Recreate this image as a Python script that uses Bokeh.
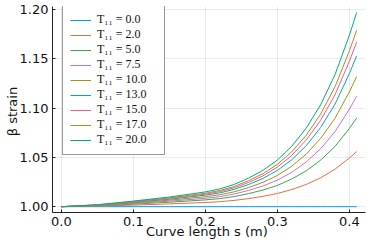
from bokeh.plotting import figure
from bokeh.models import Range1d, FixedTicker, Legend, LegendItem
from bokeh.embed import file_html
from bokeh.resources import INLINE

# Curve length s (m)
s_values = [0.00, 0.05, 0.10, 0.15, 0.20, 0.22, 0.24, 0.26, 0.28, 0.30, 0.32, 0.34, 0.36, 0.38, 0.40, 0.41]

# tension values T11 (legend)
T11_values = [0.0, 2.0, 5.0, 7.5, 10.0, 13.0, 15.0, 17.0, 20.0]

# beta strain for each T11
beta_T0 = [1.0000, 1.0000, 1.0000, 1.0000, 1.0000, 1.0000, 1.0000, 1.0000, 1.0000, 1.0000, 1.0000, 1.0000, 1.0000, 1.0000, 1.0000, 1.0000]
beta_T2 = [1.0000, 1.0006, 1.0016, 1.0028, 1.0043, 1.0051, 1.0064, 1.0082, 1.0105, 1.0134, 1.0174, 1.0226, 1.0293, 1.0381, 1.0494, 1.0559]
beta_T5 = [1.0000, 1.0009, 1.0026, 1.0045, 1.0069, 1.0082, 1.0103, 1.0133, 1.0169, 1.0216, 1.0281, 1.0364, 1.0472, 1.0612, 1.0795, 1.0900]
beta_T7_5 = [1.0000, 1.0011, 1.0032, 1.0056, 1.0085, 1.0102, 1.0129, 1.0165, 1.0210, 1.0269, 1.0349, 1.0453, 1.0588, 1.0762, 1.0990, 1.1121]
beta_T10 = [1.0000, 1.0013, 1.0038, 1.0066, 1.0101, 1.0121, 1.0151, 1.0194, 1.0247, 1.0317, 1.0411, 1.0534, 1.0692, 1.0898, 1.1166, 1.1320]
beta_T13 = [1.0000, 1.0016, 1.0044, 1.0076, 1.0117, 1.0140, 1.0176, 1.0225, 1.0287, 1.0368, 1.0477, 1.0619, 1.0803, 1.1041, 1.1352, 1.1531]
beta_T15 = [1.0000, 1.0017, 1.0048, 1.0083, 1.0127, 1.0153, 1.0192, 1.0246, 1.0313, 1.0401, 1.0521, 1.0676, 1.0876, 1.1136, 1.1476, 1.1671]
beta_T17 = [1.0000, 1.0018, 1.0052, 1.0089, 1.0136, 1.0164, 1.0205, 1.0264, 1.0335, 1.0430, 1.0558, 1.0724, 1.0939, 1.1218, 1.1582, 1.1791]
beta_T20 = [1.0000, 1.0020, 1.0057, 1.0098, 1.0150, 1.0180, 1.0226, 1.0290, 1.0369, 1.0473, 1.0614, 1.0797, 1.1033, 1.1340, 1.1740, 1.1970]

series = [beta_T0, beta_T2, beta_T5, beta_T7_5, beta_T10, beta_T13, beta_T15, beta_T17, beta_T20]
colors = ["#009AFA", "#E36F47", "#3EA44E", "#C371D2", "#AC8E18",
          "#00AAAE", "#ED5E93", "#C68225", "#00A98D"]

x_ticks = [0.0, 0.1, 0.2, 0.3, 0.4]
x_tick_labels = ["0.0", "0.1", "0.2", "0.3", "0.4"]
y_ticks = [1.00, 1.05, 1.10, 1.15, 1.20]
y_tick_labels = ["1.00", "1.05", "1.10", "1.15", "1.20"]

p = figure(width=366, height=241, output_backend="svg", toolbar_location=None,
           x_range=Range1d(-0.0123, 0.4223), y_range=Range1d(0.9941, 1.2031),
           min_border_left=52, min_border_right=1, min_border_top=6, min_border_bottom=28)
p.outline_line_color = None
p.background_fill_color = "white"
p.border_fill_color = "white"

items = []
for T, ys, c in zip(T11_values, series, colors):
    r = p.line(s_values, ys, line_color=c, line_width=1)
    items.append(LegendItem(label="T\u2081\u2081 = %.1f" % T, renderers=[r]))

for ax, ticks, labels in ((p.xaxis[0], x_ticks, x_tick_labels), (p.yaxis[0], y_ticks, y_tick_labels)):
    ax.ticker = FixedTicker(ticks=ticks)
    ax.major_label_overrides = {t: l for t, l in zip(ticks, labels)}
    ax.minor_tick_line_color = None
    ax.major_tick_in = 3
    ax.major_tick_out = 0
    ax.major_tick_line_color = "#222222"
    ax.axis_line_color = "#222222"
    ax.major_label_text_font = "DejaVu Sans"
    ax.major_label_text_font_size = "13px"
    ax.major_label_text_color = "#111111"
    ax.axis_label_text_font = "DejaVu Sans"
    ax.axis_label_text_font_size = "13px"
    ax.axis_label_text_font_style = "normal"
    ax.axis_label_text_color = "#111111"
    ax.major_label_standoff = 4
    ax.axis_label_standoff = -5

p.yaxis[0].axis_label_standoff = -3
p.xaxis.axis_label = "Curve length s  (m)"
p.yaxis.axis_label = "\u03b2  strain"

p.xgrid.ticker = FixedTicker(ticks=x_ticks)
p.ygrid.ticker = FixedTicker(ticks=y_ticks)
p.grid.grid_line_color = "#000000"
p.grid.grid_line_alpha = 0.08
p.grid.grid_line_width = 1

legend = Legend(items=items, location=(10, 57))
legend.label_text_font = "Liberation Serif"
legend.label_text_font_size = "12px"
legend.label_text_color = "#111111"
legend.label_height = 14
legend.label_width = 60
legend.glyph_height = 14
legend.glyph_width = 21
legend.label_standoff = 6
legend.spacing = 0
legend.padding = 7
legend.margin = 0
legend.border_line_color = "#333333"
legend.border_line_width = 1
legend.background_fill_color = "white"
legend.background_fill_alpha = 1.0
p.add_layout(legend, "center")

open("out.html", "w").write(file_html(p, INLINE))
